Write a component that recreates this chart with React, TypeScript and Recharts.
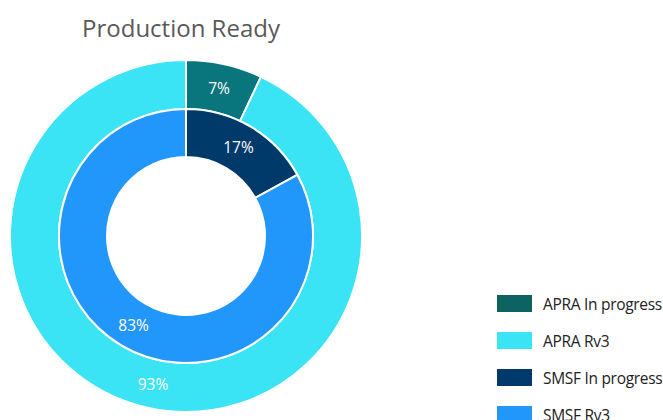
import { Legend, Pie, PieChart, Cell } from "recharts";

// Outer ring: APRA, inner ring: SMSF (percent of items)
const apraLabels = ["APRA In progress", "APRA Rv3"];
const apraValues = [7, 93];
const smsfLabels = ["SMSF In progress", "SMSF Rv3"];
const smsfValues = [17, 83];

const apraColors = ["#08767c", "#3ae4f5"];
const smsfColors = ["#003a6b", "#2196fb"];
const legendColors = ["#0d6362", "#3ae4f5", "#003a6b", "#2196fb"];

const apraData = apraLabels.map((name, i) => ({ name, value: apraValues[i] }));
const smsfData = smsfLabels.map((name, i) => ({ name, value: smsfValues[i] }));

const RAD = Math.PI / 180;
const FONT = "'Open Sans', 'Noto Sans', sans-serif";

function sliceLabel(props: any) {
  const { cx, cy, midAngle, innerRadius, outerRadius, value } = props;
  const r = (innerRadius + outerRadius) / 2;
  const x = cx + r * Math.cos(-midAngle * RAD);
  const y = cy + r * Math.sin(-midAngle * RAD);
  return (
    <text x={x} y={y} fill="#ffffff" fontSize={15.5} fontFamily={FONT} textAnchor="middle" dominantBaseline="central">
      {`${value}%`}
    </text>
  );
}

function LegendBox() {
  const names = [...apraLabels, ...smsfLabels];
  return (
    <div style={{ fontFamily: FONT, fontSize: 15.5, color: "#222" }}>
      {names.map((n, i) => (
        <div key={n} style={{ display: "flex", alignItems: "center", height: 37 }}>
          <div style={{ width: 35, height: 17, background: legendColors[i], marginRight: 11, flexShrink: 0 }} />
          <span style={{ whiteSpace: "nowrap", letterSpacing: -0.3 }}>{n}</span>
        </div>
      ))}
    </div>
  );
}

export default function App() {
  return (
    <div style={{ position: "absolute", left: 0, top: 0, width: 663, height: 420, overflow: "hidden", background: "#fff" }}>
      <div
        style={{
          position: "absolute",
          left: 0,
          width: 362,
          top: 11,
          textAlign: "center",
          fontFamily: FONT,
          fontSize: 24,
          color: "#595959",
        }}
      >
        Production Ready
      </div>
      <PieChart width={663} height={420} margin={{ top: 0, right: 0, bottom: 0, left: 0 }}>
        <Pie
          data={apraData}
          dataKey="value"
          nameKey="name"
          cx={186}
          cy={236}
          innerRadius={127}
          outerRadius={176}
          startAngle={90}
          endAngle={-270}
          stroke="#ffffff"
          strokeWidth={2}
          label={sliceLabel}
          labelLine={false}
          isAnimationActive={false}
        >
          {apraData.map((d, i) => (
            <Cell key={d.name} fill={apraColors[i]} />
          ))}
        </Pie>
        <Pie
          data={smsfData}
          dataKey="value"
          nameKey="name"
          cx={186}
          cy={236}
          innerRadius={79}
          outerRadius={127}
          startAngle={90}
          endAngle={-270}
          stroke="#ffffff"
          strokeWidth={2}
          label={sliceLabel}
          labelLine={false}
          isAnimationActive={false}
        >
          {smsfData.map((d, i) => (
            <Cell key={d.name} fill={smsfColors[i]} />
          ))}
        </Pie>
        <Legend
          layout="vertical"
          verticalAlign="top"
          align="right"
          content={() => <LegendBox />}
          wrapperStyle={{ position: "absolute", top: 285, left: 497, width: 170 }}
        />
      </PieChart>
    </div>
  );
}
